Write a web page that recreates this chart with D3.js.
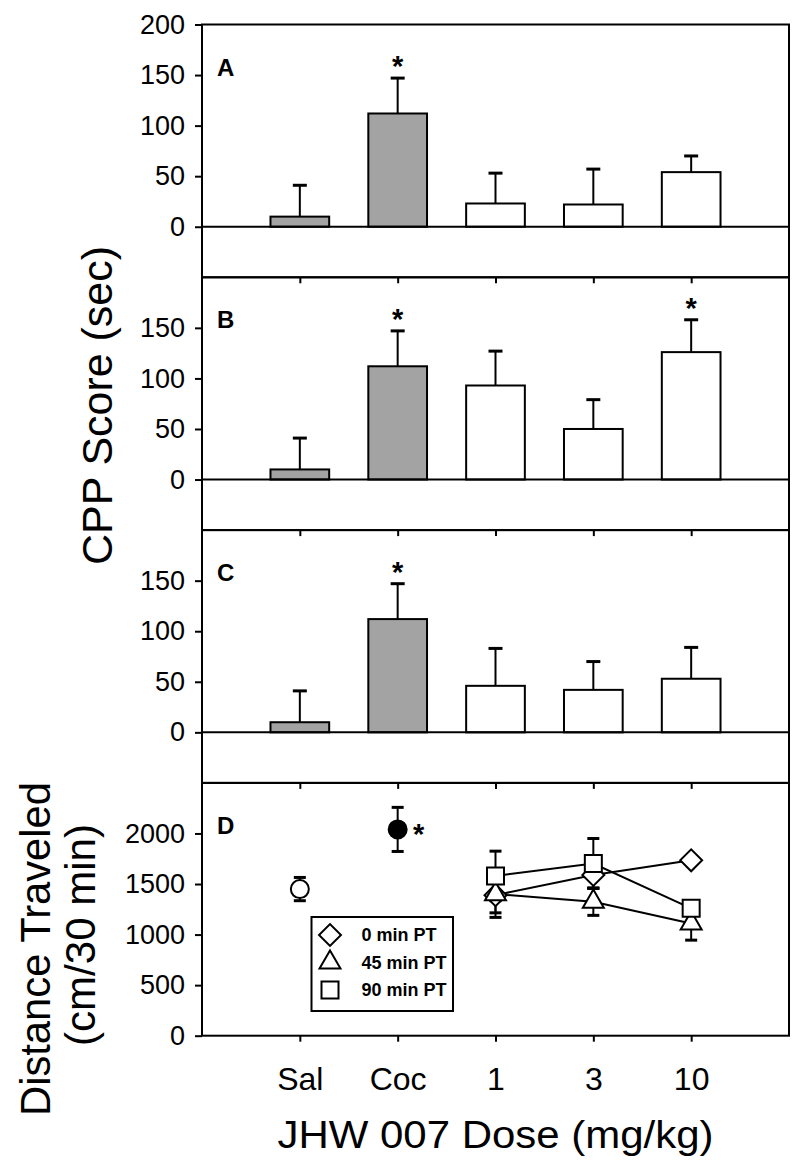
<!DOCTYPE html>
<html>
<head>
<meta charset="utf-8">
<script src="https://cdn.jsdelivr.net/npm/d3@7"></script>
<style>
body { margin: 0; background: #fff; }
text { font-family: "Liberation Sans", Arial, sans-serif; fill: #000; }
</style>
</head>
<body>
<div id="chart"></div>
<script>
// groups on the x axis
var categories = ["Sal", "Coc", "1", "3", "10"];
var controlGroups = ["Sal", "Coc"];

// CPP scores (sec), mean and SEM
var cppA = [10, 112, 23, 22, 54];
var cppAErr = [31, 35, 30, 35, 16];
var cppASig = [false, true, false, false, false];

var cppB = [10, 112, 93, 50, 126];
var cppBErr = [31, 35, 34, 29, 32];
var cppBSig = [false, true, false, false, true];

var cppC = [10, 112, 46, 42, 53];
var cppCErr = [31, 35, 37, 28, 31];
var cppCSig = [false, true, false, false, false];

// distance traveled (cm/30 min)
var controlLoco = [1450, 2040];
var controlLocoErr = [115, 218];
var controlLocoSig = [false, true];

var doses = ["1", "3", "10"];
var seriesNames = ["0 min PT", "45 min PT", "90 min PT"];
var loco0 = [1390, 1590, 1735];
var loco0Err = [175, 130, 30];
var loco45 = [1400, 1325, 1110];
var loco45Err = [230, 135, 165];
var loco90 = [1580, 1703, 1260];
var loco90Err = [245, 247, 70];

var cppTicksTop = [0, 50, 100, 150, 200];
var cppTicks = [0, 50, 100, 150];
var locoTicks = [0, 500, 1000, 1500, 2000];

var width = 800, height = 1170;
var plotLeft = 202, plotRight = 789, plotTop = 24.5, panelH = 252.8;

var svg = d3.select("#chart").append("svg")
    .attr("width", width)
    .attr("height", height);

var x = d3.scaleLinear().domain([0, categories.length + 1]).range([plotLeft, plotRight]);
function xCat(c) { return x(categories.indexOf(c) + 1); }
var barW = x(0.6) - x(0);

function styleAxis(sel, fontSize) {
    sel.select(".domain").remove();
    sel.selectAll(".tick line").attr("stroke", "#000").attr("stroke-width", 2);
    sel.selectAll(".tick text").attr("font-size", fontSize).attr("font-family", "Liberation Sans, Arial, sans-serif").attr("fill", "#000");
}

function frame(y0, y, ticks, letter, showLabels) {
    var g = svg.append("g");
    g.append("rect")
        .attr("x", plotLeft).attr("y", y0)
        .attr("width", plotRight - plotLeft).attr("height", panelH)
        .attr("fill", "none").attr("stroke", "#000").attr("stroke-width", 2);

    g.append("g")
        .attr("transform", "translate(" + plotLeft + ",0)")
        .call(d3.axisLeft(y).tickValues(ticks).tickSize(7).tickPadding(10).tickFormat(d3.format("d")))
        .call(styleAxis, 27);

    g.append("g")
        .attr("transform", "translate(0," + (y0 + panelH) + ")")
        .call(d3.axisBottom(x).tickValues(d3.range(1, categories.length + 1)).tickSize(6).tickPadding(26)
            .tickFormat(function(d) { return showLabels ? categories[d - 1] : ""; }))
        .call(styleAxis, 32);

    g.append("text")
        .attr("x", 217).attr("y", y0 + 51)
        .attr("font-size", 24).attr("font-weight", "bold")
        .text(letter);
    return g;
}

function barPanel(i, values, errs, sig, letter) {
    var y0 = plotTop + i * panelH;
    var y = d3.scaleLinear().domain([-50, 200]).range([y0 + panelH, y0]);
    var g = frame(y0, y, i == 0 ? cppTicksTop : cppTicks, letter, false);

    var data = categories.map(function(c, k) {
        return { cat: c, v: values[k], e: errs[k], sig: sig[k] };
    });

    // error bars (upper only)
    g.selectAll(".err").data(data).enter().append("line")
        .attr("x1", function(d) { return xCat(d.cat); })
        .attr("x2", function(d) { return xCat(d.cat); })
        .attr("y1", function(d) { return y(d.v); })
        .attr("y2", function(d) { return y(d.v + d.e); })
        .attr("stroke", "#000").attr("stroke-width", 2);
    g.selectAll(".cap").data(data).enter().append("line")
        .attr("x1", function(d) { return xCat(d.cat) - 7; })
        .attr("x2", function(d) { return xCat(d.cat) + 7; })
        .attr("y1", function(d) { return y(d.v + d.e); })
        .attr("y2", function(d) { return y(d.v + d.e); })
        .attr("stroke", "#000").attr("stroke-width", 3);

    g.selectAll(".bar").data(data).enter().append("rect")
        .attr("x", function(d) { return xCat(d.cat) - barW / 2; })
        .attr("y", function(d) { return y(d.v); })
        .attr("width", barW)
        .attr("height", function(d) { return y(0) - y(d.v); })
        .attr("fill", function(d) { return controlGroups.indexOf(d.cat) >= 0 ? "#a3a3a3" : "#fff"; })
        .attr("stroke", "#000").attr("stroke-width", 2);

    // zero line
    g.append("line")
        .attr("x1", plotLeft).attr("x2", plotRight)
        .attr("y1", y(0)).attr("y2", y(0))
        .attr("stroke", "#000").attr("stroke-width", 2);

    g.selectAll(".star").data(data.filter(function(d) { return d.sig; })).enter().append("text")
        .attr("x", function(d) { return xCat(d.cat); })
        .attr("y", function(d) { return y(d.v + d.e) - 2; })
        .attr("text-anchor", "middle")
        .attr("font-size", 29).attr("font-weight", "bold")
        .text("*");
}

barPanel(0, cppA, cppAErr, cppASig, "A");
barPanel(1, cppB, cppBErr, cppBSig, "B");
barPanel(2, cppC, cppCErr, cppCSig, "C");

// panel D
var yTopD = plotTop + 3 * panelH;
var yD = d3.scaleLinear().domain([0, 2500]).range([yTopD + panelH, yTopD]);
var gD = frame(yTopD, yD, locoTicks, "D", true);

var seriesVals = [loco0, loco45, loco90];
var seriesErrs = [loco0Err, loco45Err, loco90Err];
var symbols = [d3.symbolSquare, d3.symbolTriangle, d3.symbolSquare];
var symSizes = [240, 190, 289];
var symRot = [45, 0, 0];

var pts = [];
seriesVals.forEach(function(vals, s) {
    vals.forEach(function(v, k) {
        pts.push({ s: s, cat: doses[k], v: v, e: seriesErrs[s][k] });
    });
});
var ctrl = controlGroups.map(function(c, k) {
    return { cat: c, v: controlLoco[k], e: controlLocoErr[k], sig: controlLocoSig[k] };
});

var line = d3.line()
    .x(function(d, k) { return xCat(doses[k]); })
    .y(function(d) { return yD(d); });

gD.selectAll(".ln").data(seriesVals).enter().append("path")
    .attr("d", line)
    .attr("fill", "none").attr("stroke", "#000").attr("stroke-width", 2);

var allErr = pts.concat(ctrl);
gD.selectAll(".derr").data(allErr).enter().append("line")
    .attr("x1", function(d) { return xCat(d.cat); })
    .attr("x2", function(d) { return xCat(d.cat); })
    .attr("y1", function(d) { return yD(d.v - d.e); })
    .attr("y2", function(d) { return yD(d.v + d.e); })
    .attr("stroke", "#000").attr("stroke-width", 2);
[1, -1].forEach(function(sign) {
    gD.selectAll(".dcap" + (sign > 0 ? "u" : "d")).data(allErr).enter().append("line")
        .attr("x1", function(d) { return xCat(d.cat) - 6; })
        .attr("x2", function(d) { return xCat(d.cat) + 6; })
        .attr("y1", function(d) { return yD(d.v + sign * d.e); })
        .attr("y2", function(d) { return yD(d.v + sign * d.e); })
        .attr("stroke", "#000").attr("stroke-width", 3);
});

gD.selectAll(".ctrl").data(ctrl).enter().append("circle")
    .attr("cx", function(d) { return xCat(d.cat); })
    .attr("cy", function(d) { return yD(d.v); })
    .attr("r", 9)
    .attr("fill", function(d) { return d.cat == "Coc" ? "#000" : "#fff"; })
    .attr("stroke", "#000").attr("stroke-width", 2);

gD.selectAll(".dstar").data(ctrl.filter(function(d) { return d.sig; })).enter().append("text")
    .attr("x", function(d) { return xCat(d.cat) + 21; })
    .attr("y", function(d) { return yD(d.v) + 15; })
    .attr("text-anchor", "middle")
    .attr("font-size", 29).attr("font-weight", "bold")
    .text("*");

gD.selectAll(".mk").data(pts).enter().append("path")
    .attr("d", function(d) { return d3.symbol().type(symbols[d.s]).size(symSizes[d.s])(); })
    .attr("transform", function(d) {
        return "translate(" + xCat(d.cat) + "," + yD(d.v) + ") rotate(" + symRot[d.s] + ")";
    })
    .attr("fill", "#fff").attr("stroke", "#000").attr("stroke-width", 2);

// legend
var lg = svg.append("g").attr("transform", "translate(311.5,917)");
lg.append("rect")
    .attr("width", 141.5).attr("height", 94)
    .attr("fill", "#fff").attr("stroke", "#000").attr("stroke-width", 2);
var item = lg.selectAll(".item").data(seriesNames).enter().append("g")
    .attr("transform", function(d, k) { return "translate(0," + (18 + k * 27.5) + ")"; });
item.append("path")
    .attr("d", function(d, k) { return d3.symbol().type(symbols[k]).size(symSizes[k])(); })
    .attr("transform", function(d, k) { return "translate(18.5,0) rotate(" + symRot[k] + ")"; })
    .attr("fill", "#fff").attr("stroke", "#000").attr("stroke-width", 2);
item.append("text")
    .attr("x", 50).attr("dy", "0.36em")
    .attr("font-size", 18).attr("font-weight", "bold")
    .text(function(d) { return d; });

// axis titles
svg.append("text")
    .attr("transform", "translate(112,405.5) rotate(-90)")
    .attr("text-anchor", "middle")
    .attr("font-size", 43)
    .attr("textLength", 319).attr("lengthAdjust", "spacingAndGlyphs")
    .text("CPP Score (sec)");

svg.append("text")
    .attr("transform", "translate(50,949) rotate(-90)")
    .attr("text-anchor", "middle")
    .attr("font-size", 43)
    .attr("textLength", 334).attr("lengthAdjust", "spacingAndGlyphs")
    .text("Distance Traveled");

svg.append("text")
    .attr("transform", "translate(95,935) rotate(-90)")
    .attr("text-anchor", "middle")
    .attr("font-size", 43)
    .attr("textLength", 222).attr("lengthAdjust", "spacingAndGlyphs")
    .text("(cm/30 min)");

svg.append("text")
    .attr("x", (plotLeft + plotRight) / 2).attr("y", 1148)
    .attr("text-anchor", "middle")
    .attr("font-size", 38)
    .attr("textLength", 436).attr("lengthAdjust", "spacingAndGlyphs")
    .text("JHW 007 Dose (mg/kg)");
</script>
</body>
</html>
